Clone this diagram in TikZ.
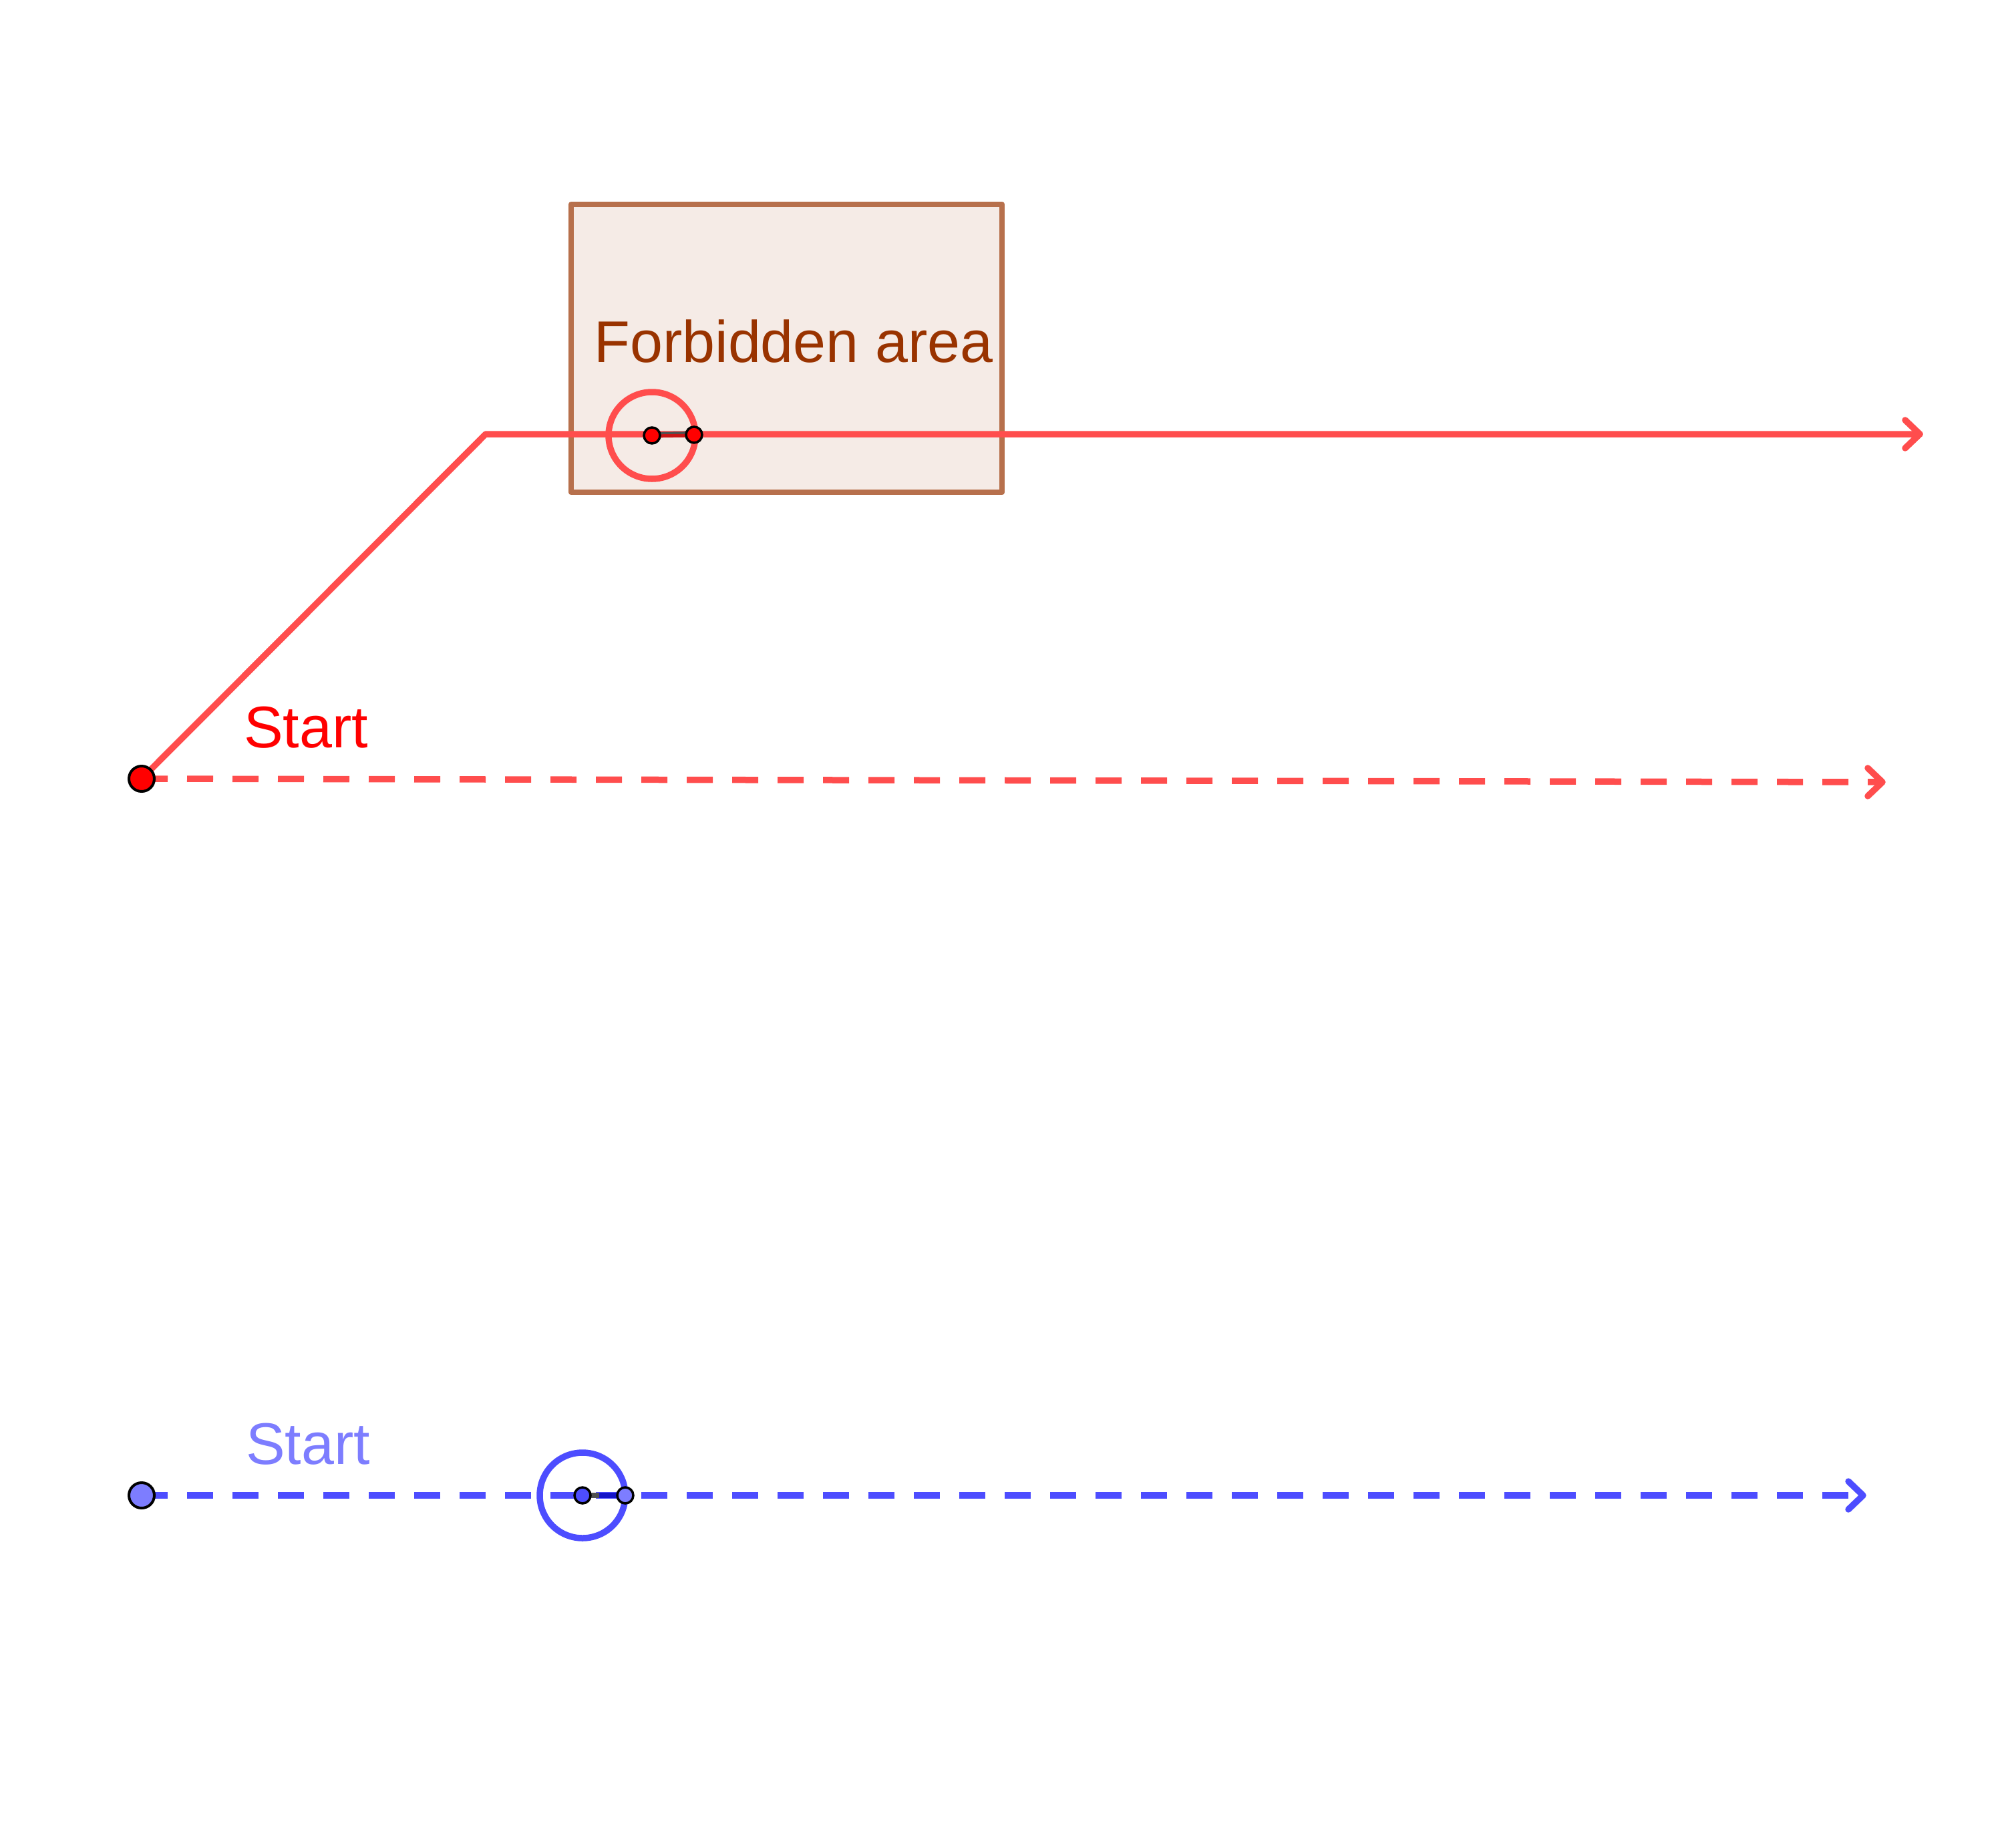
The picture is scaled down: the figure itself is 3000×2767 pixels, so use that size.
\documentclass[tikz,border=0pt]{standalone}
\usepackage{fontspec}
\setmainfont{Liberation Sans}
\definecolor{redline}{RGB}{255,77,77}
\definecolor{redpt}{RGB}{255,0,0}
\definecolor{darkredseg}{RGB}{200,20,20}
\definecolor{blueline}{RGB}{77,77,255}
\definecolor{bluept}{RGB}{125,125,255}
\definecolor{darkblueseg}{RGB}{20,20,200}
\definecolor{rectdraw}{RGB}{183,112,76}
\definecolor{rectfill}{RGB}{245,235,230}
\definecolor{brown}{RGB}{153,51,0}
\definecolor{segray}{RGB}{80,80,80}
\tikzset{
  path/.style={line width=9.5pt,line cap=round,line join=round},
  dashpath/.style={line width=9.5pt,line cap=butt,dash pattern=on 39pt off 29pt},
  chev/.style={line width=9.5pt,line cap=round,line join=round},
  ptmark/.style={circle,draw=black,line width=3.5pt,minimum size=24pt,inner sep=0pt},
  startmark/.style={circle,draw=black,line width=4pt,minimum size=38pt,inner sep=0pt},
  lbl/.style={inner sep=0pt,font=\fontsize{88}{100}\selectfont},
  ring/.style={line width=9.5pt}
}
\begin{document}
\begin{tikzpicture}[x=1pt,y=-1pt]
\useasboundingbox (0,0) rectangle (3000,2767);
% forbidden area
\coordinate (r1) at (855,306);
\coordinate (r2) at (1500,306);
\coordinate (r3) at (1500,737);
\coordinate (r4) at (855,737);
\fill[rectfill] (r1) rectangle (r3);
\draw[rectdraw,line width=8.5pt,line cap=round,line join=round] (r1) -- (r2) -- (r3) -- (r4) -- cycle;
\node[lbl,anchor=base,text=brown] (fa) at (1188,542) {Forbidden area};

% red path
\coordinate (rs) at (212,1166);
\coordinate (rb) at (727,650);
\coordinate (rt) at (2874,650);
\draw[redline,path] (rs) -- (rb) -- (rt);
\draw[redline,chev] ([shift={(-22,-21)}]rt) -- (rt) -- ([shift={(-22,21)}]rt);
% red dashed
\coordinate (rdt) at (2818,1171);
\draw[redline,dashpath] (rs) -- ([xshift=-4pt]rdt);
\draw[redline,chev] ([shift={(-22,-21)}]rdt) -- (rdt) -- ([shift={(-22,21)}]rdt);
% red robot
\coordinate (rc) at (976,652);
\coordinate (rp) at (1039,651);
\draw[redline,ring] (rc) circle (65);
\draw[segray,line width=6pt] ([yshift=2pt]rc) -- ([yshift=2pt]rp);
\draw[darkredseg,line width=5pt] ([yshift=-1pt]rc) -- ([yshift=-1pt]rp);
\node[ptmark,fill=redpt] (rcp) at (rc) {};
\node[ptmark,fill=redpt] (rpp) at (rp) {};
\node[startmark,fill=redpt] (rsp) at (rs) {};
\node[lbl,anchor=base west,text=redpt] (rl) at (365,1119) {Start};

% blue path
\coordinate (bs) at (212,2239);
\coordinate (bt) at (2789,2239);
\draw[blueline,dashpath] (bs) -- ([xshift=-4pt]bt);
\draw[blueline,chev] ([shift={(-22,-21)}]bt) -- (bt) -- ([shift={(-22,21)}]bt);
\coordinate (bc) at (872,2239);
\coordinate (bp) at (936,2239);
\draw[blueline,ring] (bc) circle (64);
\draw[segray,line width=8pt] (bc) -- (bp);
\draw[darkblueseg,line width=8pt] ([xshift=25pt]bc) -- (bp);
\node[ptmark,fill=blueline] (bcp) at (bc) {};
\node[ptmark,fill=bluept] (bpp) at (bp) {};
\node[startmark,fill=bluept] (bsp) at (bs) {};
\node[lbl,anchor=base west,text=bluept] (bl) at (368,2192) {Start};
\end{tikzpicture}
\end{document}
